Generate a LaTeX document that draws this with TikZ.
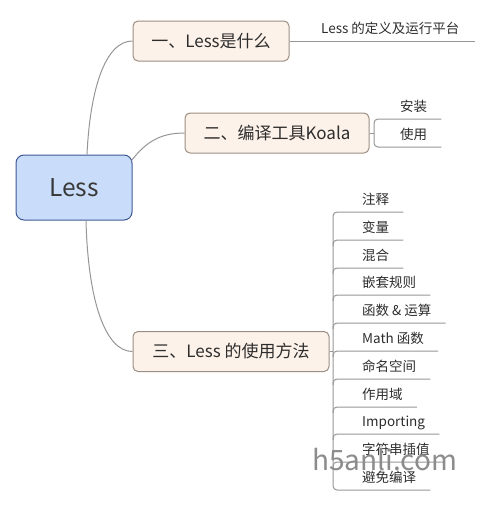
\documentclass[tikz,border=0pt]{standalone}
\usepackage{fontspec}
\setmainfont{Noto Sans CJK SC}
\usetikzlibrary{positioning, calc}
\definecolor{MMblue}{RGB}{201, 221, 251}
\definecolor{MMnavy}{RGB}{62, 88, 148}
\definecolor{MMcream}{RGB}{253, 242, 233}
\definecolor{MMbrown}{RGB}{156, 142, 130}
\definecolor{MMtext}{RGB}{45, 45, 45}
\definecolor{MMline}{RGB}{150, 150, 150}
\tikzset{
  root/.style={rectangle, rounded corners=8pt, draw=MMnavy, line width=1pt, fill=MMblue,
    minimum width=116pt, minimum height=65pt, inner sep=0pt,
    font=\fontsize{24.5}{28}\selectfont, text=black!78},
  topic/.style={rectangle, rounded corners=5pt, draw=MMbrown, line width=1pt, fill=MMcream,
    minimum height=40pt, inner sep=0pt, font=\fontsize{17}{20}\selectfont, text=MMtext},
  leaf/.style={anchor=south west, inner xsep=0pt, inner ysep=5pt, text height=11pt, text depth=2pt,
    font=\fontsize{13.5}{16}\selectfont, text=MMtext},
  link/.style={MMline, line width=1pt},
  under/.style={link, rounded corners=4pt},
}

\begin{document}
\begin{tikzpicture}[x=1pt, y=-1pt]
    \useasboundingbox (0,0) rectangle (494,507);
    % central topic
    \node[root] (less) at (74,187.5) {Less};
    % main branches
    \node[topic, minimum width=156pt] (what) at (211,41) {一、Less是什么};
    \node[topic, minimum width=184pt] (koala) at (277,133) {二、编译工具Koala};
    \node[topic, minimum width=196pt] (usage) at (231,351.5) {三、Less 的使用方法};
    % branch one
    \node[leaf] (define) at (321,41) {Less 的定义及运行平台};
    % branch two
    \coordinate (kbar) at (374,133);
    \node[leaf] (install) at (400,119) {安装};
    \node[leaf] (use) at (400,147) {使用};
    % branch three
    \coordinate (ubar) at (333,351.5);
    \node[leaf] (comment) at (362,212) {注释};
    \node[leaf] (var) at (362,240) {变量};
    \node[leaf] (mixin) at (362,268) {混合};
    \node[leaf] (nest) at (362,295) {嵌套规则};
    \node[leaf] (func) at (362,323) {函数 \& 运算};
    \node[leaf] (math) at (362,351) {Math 函数};
    \node[leaf] (ns) at (362,379) {命名空间};
    \node[leaf] (scope) at (362,407) {作用域};
    \node[leaf] (import) at (362,434) {Importing};
    \node[leaf] (interp) at (362,462) {字符串插值};
    \node[leaf] (escape) at (362,490) {避免编译};
    % curves out of the centre
    \draw[link] ([xshift=13pt]less.north) .. controls (90,90) and (105,41) .. (what.west);
    \draw[link] ([xshift=-1pt, yshift=-6pt]less.north east) .. controls (146,142) and (160,133) .. (koala.west);
    \draw[link] ([xshift=12pt]less.south) .. controls (88,300) and (105,351.5) .. (usage.west);
    % lines to the leaves
    \draw[link] (what.east) -- ([xshift=15pt]define.south east);
    \draw[link] (koala.east) -- (kbar);
    \draw[under] ([xshift=14pt]install.south east) -- (kbar|-install.south) -- (kbar|-use.south) -- ([xshift=14pt]use.south east);
    \draw[link] (usage.east) -- (ubar);
    \draw[under] ([xshift=14pt]comment.south east) -- (ubar|-comment.south) -- (ubar|-escape.south) -- ([xshift=14pt]escape.south east);
    \draw[under] ([yshift=-6pt]ubar|-var.south) -- (ubar|-var.south) -- ([xshift=14pt]var.south east);
    \draw[under] ([yshift=-6pt]ubar|-mixin.south) -- (ubar|-mixin.south) -- ([xshift=14pt]mixin.south east);
    \draw[under] ([yshift=-6pt]ubar|-nest.south) -- (ubar|-nest.south) -- ([xshift=14pt]nest.south east);
    \draw[under] ([yshift=-6pt]ubar|-func.south) -- (ubar|-func.south) -- ([xshift=14pt]func.south east);
    \draw[under] ([yshift=-6pt]ubar|-math.south) -- (ubar|-math.south) -- ([xshift=14pt]math.south east);
    \draw[under] ([yshift=-6pt]ubar|-ns.south) -- (ubar|-ns.south) -- ([xshift=14pt]ns.south east);
    \draw[under] ([yshift=-6pt]ubar|-scope.south) -- (ubar|-scope.south) -- ([xshift=14pt]scope.south east);
    \draw[under] ([yshift=-6pt]ubar|-import.south) -- (ubar|-import.south) -- ([xshift=14pt]import.south east);
    \draw[under] ([yshift=-6pt]ubar|-interp.south) -- (ubar|-interp.south) -- ([xshift=14pt]interp.south east);
    % watermark
    \node[anchor=west, inner sep=0pt, font=\fontsize{28}{30}\selectfont, text=black!45] (mark) at (312,460) {h5anli.com};
\end{tikzpicture}
\end{document}
